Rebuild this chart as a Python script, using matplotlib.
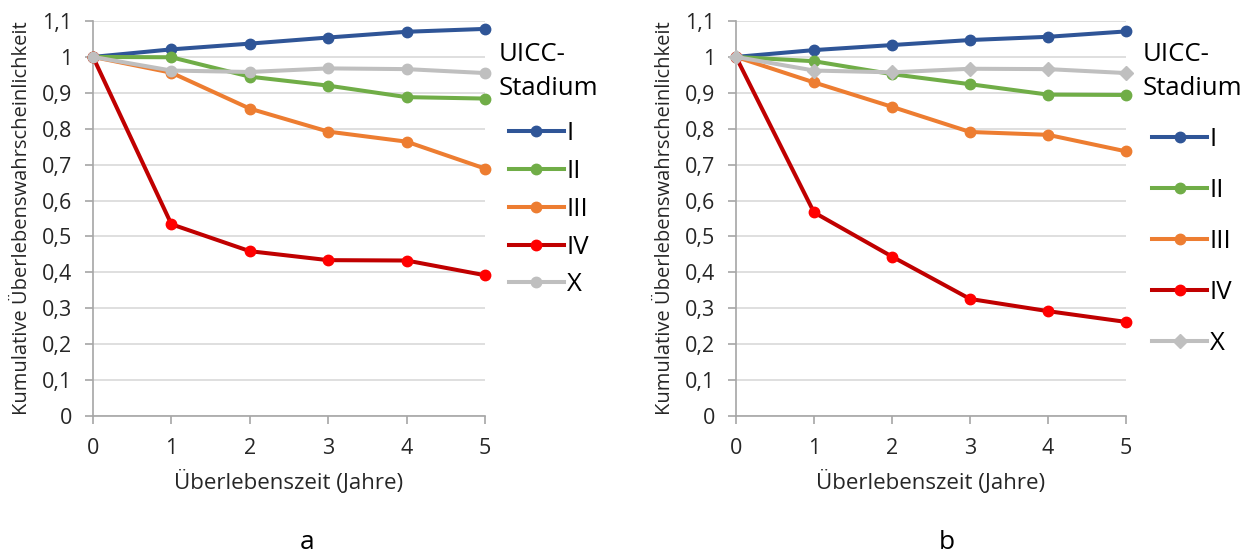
import matplotlib
matplotlib.use("Agg")
import matplotlib.pyplot as plt
from matplotlib.ticker import FuncFormatter

plt.rcParams['font.family'] = ['Open Sans', 'DejaVu Sans']

years = [0, 1, 2, 3, 4, 5]
stages = ["I", "II", "III", "IV", "X"]

# Panel a
a_I   = [1.0, 1.021, 1.037, 1.054, 1.070, 1.078]
a_II  = [1.0, 0.999, 0.945, 0.920, 0.888, 0.884]
a_III = [1.0, 0.956, 0.856, 0.792, 0.764, 0.689]
a_IV  = [1.0, 0.534, 0.459, 0.434, 0.433, 0.392]
a_X   = [1.0, 0.962, 0.958, 0.968, 0.966, 0.955]

# Panel b
b_I   = [1.0, 1.019, 1.033, 1.047, 1.056, 1.071]
b_II  = [1.0, 0.988, 0.952, 0.924, 0.895, 0.894]
b_III = [1.0, 0.929, 0.861, 0.791, 0.783, 0.737]
b_IV  = [1.0, 0.567, 0.444, 0.326, 0.292, 0.262]
b_X   = [1.0, 0.962, 0.957, 0.967, 0.966, 0.955]

panel_labels = ["a", "b"]
xlabel = "Überlebenszeit (Jahre)"
ylabel = "Kumulative Überlebenswahrscheinlichkeit"
legend_title = "UICC-\nStadium"

line_colors = ["#2F5597", "#70AD47", "#ED7D31", "#C00000", "#BFBFBF"]
marker_colors = ["#2F5597", "#70AD47", "#ED7D31", "#FF0000", "#BFBFBF"]

fig = plt.figure(figsize=(12.45, 5.56), dpi=100)
ax_a = fig.add_axes([93/1245, 1-416/556, 392/1245, 395/556])
ax_b = fig.add_axes([736/1245, 1-416/556, 390/1245, 395/556])

def fmt(v, pos):
    s = ("%.1f" % v).rstrip("0").rstrip(".")
    return s.replace(".", ",")

panels = [
    (ax_a, [a_I, a_II, a_III, a_IV, a_X], ["o"]*5, 0.50, 14.5, (1.036, 0.946), 0.546),
    (ax_b, [b_I, b_II, b_III, b_IV, b_X], ["o", "o", "o", "o", "D"], 1.02, 18.5, (1.042, 0.946), 0.541),
]

for i, (ax, series, markers, lspace, tsep, anchor, lx) in enumerate(panels):
    for vals, name, lc, mc, mk in zip(series, stages, line_colors, marker_colors, markers):
        ax.plot(years, vals, color=lc, lw=2.9, marker=mk,
                ms=7.5, mfc=mc, mec=mc, label=name, zorder=3,
                clip_on=False)
    ax.set_xlim(0, 5)
    ax.set_ylim(0, 1.1)
    ax.set_xticks(years)
    ax.set_yticks([k/10 for k in range(12)])
    ax.yaxis.set_major_formatter(FuncFormatter(fmt))
    ax.grid(axis="y", color="#D9D9D9", lw=1.2, zorder=0)
    ax.set_axisbelow(True)
    for sp in ["top", "right"]:
        ax.spines[sp].set_visible(False)
    for sp in ["left", "bottom"]:
        ax.spines[sp].set_color("#A6A6A6")
        ax.spines[sp].set_linewidth(1.2)
    ax.tick_params(axis="both", colors="#A6A6A6", labelcolor="#262626",
                   labelsize=15.5, length=5.8, width=1.2)
    ax.tick_params(axis="x", pad=10)
    ax.tick_params(axis="y", pad=9)
    ax.set_xlabel(xlabel, fontsize=16, color="#262626", labelpad=8)
    ax.set_ylabel(ylabel, fontsize=14.5, color="#262626", labelpad=7)
    leg = ax.legend(title=legend_title, loc="upper left", bbox_to_anchor=anchor,
                    frameon=False, fontsize=18.5, title_fontsize=18.5,
                    handlelength=2.15, handletextpad=0.1, labelspacing=lspace,
                    borderaxespad=0, borderpad=0)
    leg.get_title().set_linespacing(1.45)
    leg._legend_box.align = "center"
    leg._legend_box.sep = tsep
    for t in leg.get_texts():
        t.set_color("#000000")
    ax.text(lx, -0.32, panel_labels[i], transform=ax.transAxes,
            fontsize=19, ha="center", va="center", color="#000000")

fig.savefig("out.png", dpi=100)
